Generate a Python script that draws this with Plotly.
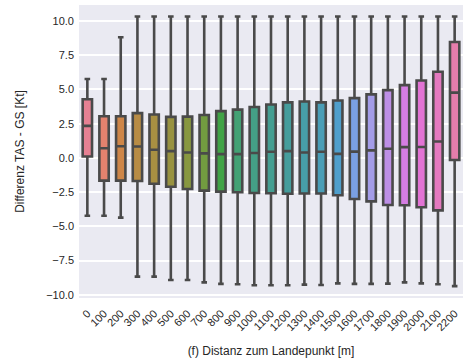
import math
import colorsys
import plotly.graph_objects as go

# Distance bins (m) and box statistics of TAS - GS difference (kt)
distances = [str(d) for d in range(0, 2300, 100)]
upper_whisker = [5.77, 5.77, 8.82] + [10.33] * 20
q3 = [4.29, 3.05, 3.05, 3.27, 3.17, 3.00, 3.02, 3.14, 3.42, 3.53, 3.72, 3.90,
      4.06, 4.12, 4.06, 4.20, 4.37, 4.64, 4.95, 5.32, 5.66, 6.30, 8.47]
median = [2.34, 0.71, 0.85, 0.83, 0.60, 0.50, 0.40, 0.33, 0.28, 0.28, 0.36, 0.45,
          0.50, 0.40, 0.45, 0.30, 0.46, 0.55, 0.67, 0.79, 0.80, 1.20, 4.77]
q1 = [0.10, -1.66, -1.66, -1.68, -1.88, -2.10, -2.27, -2.39, -2.46, -2.51, -2.56, -2.58,
      -2.62, -2.60, -2.60, -2.72, -3.00, -3.17, -3.44, -3.46, -3.60, -3.83, -0.15]
lower_whisker = [-4.22, -4.22, -4.36, -8.67, -8.67, -8.92, -8.92, -9.09, -9.20, -9.23,
                 -9.30, -9.30, -9.30, -9.25, -9.28, -9.16, -9.20, -9.20, -9.18, -9.09,
                 -9.16, -9.23, -9.36]
y_ticks = [-10.0, -7.5, -5.0, -2.5, 0.0, 2.5, 5.0, 7.5, 10.0]

# --- HUSL palette (as used by seaborn) ---
_M = [[3.2406, -1.5372, -0.4986],
      [-0.9689, 1.8758, 0.0415],
      [0.0557, -0.2040, 1.0570]]
_REF_U, _REF_V = 0.19784, 0.46834


def _max_chroma(L, H):
    hrad = math.radians(H)
    sinH, cosH = math.sin(hrad), math.cos(hrad)
    sub1 = math.pow(L + 16, 3.0) / 1560896.0
    sub2 = sub1 if sub1 > 0.008856 else L / 903.3
    result = float("inf")
    for m1, m2, m3 in _M:
        top = (0.99915 * m1 + 1.05122 * m2 + 1.14460 * m3) * sub2
        rbottom = 0.86330 * m3 - 0.17266 * m2
        lbottom = 0.12949 * m3 - 0.38848 * m1
        bottom = (rbottom * sinH + lbottom * cosH) * sub2
        for t in (0.0, 1.0):
            C = L * (top - 1.05122 * t) / (bottom + 0.17266 * sinH * t)
            if 0.0 < C < result:
                result = C
    return result


def _f_inv(t):
    return t ** 3 if t ** 3 > 0.008856 else (116.0 * t - 16.0) / 903.3


def _from_linear(c):
    return 12.92 * c if c <= 0.0031308 else 1.055 * math.pow(c, 1 / 2.4) - 0.055


def husl_to_rgb(h, s, l):
    C = _max_chroma(l, h) / 100.0 * s
    U = math.cos(math.radians(h)) * C
    V = math.sin(math.radians(h)) * C
    Y = _f_inv((l + 16.0) / 116.0)
    varU = U / (13.0 * l) + _REF_U
    varV = V / (13.0 * l) + _REF_V
    X = -(9.0 * Y * varU) / ((varU - 4.0) * varV - varU * varV)
    Z = (9.0 * Y - 15.0 * varV * Y - varV * X) / (3.0 * varV)
    rgb = [_from_linear(sum(a * b for a, b in zip(row, (X, Y, Z)))) for row in _M]
    return [min(max(c, 0.0), 1.0) for c in rgb]


def husl_palette(n, h=0.01, s=0.9, l=0.65, desat=0.75):
    out = []
    for i in range(n):
        hue = ((i / n + h) % 1) * 359
        r, g, b = husl_to_rgb(hue, s * 99, l * 99)
        hh, ll, ss = colorsys.rgb_to_hls(r, g, b)
        r, g, b = colorsys.hls_to_rgb(hh, ll, ss * desat)
        out.append(f"rgb({round(r*255)},{round(g*255)},{round(b*255)})")
    return out


colors = husl_palette(len(distances))
edge = "#4a4a4a"

fig = go.Figure()
for i, d in enumerate(distances):
    fig.add_trace(go.Box(
        x=[d], q1=[q1[i]], median=[median[i]], q3=[q3[i]],
        lowerfence=[lower_whisker[i]], upperfence=[upper_whisker[i]],
        fillcolor=colors[i], line=dict(color=edge, width=2.6),
        whiskerwidth=0.6, boxpoints=False, showlegend=False, name=d,
    ))

font_family = "Liberation Sans, Arial, sans-serif"
fig.update_layout(
    width=469, height=364,
    margin=dict(l=79, r=6, t=5, b=66),
    paper_bgcolor="white", plot_bgcolor="#EAEAF2",
    boxgap=0.2, boxmode="overlay",
    font=dict(family=font_family, size=11, color="#262626"),
    xaxis=dict(
        type="category", categoryorder="array", categoryarray=distances,
        tickangle=-45, showgrid=False, ticks="", tickfont=dict(size=11),
        ticklabelstandoff=6,
        title=dict(text="(f) Distanz zum Landepunkt [m]", font=dict(size=12), standoff=14),
        showline=False, zeroline=False,
    ),
    yaxis=dict(
        range=[-10.23, 11.17], tickvals=y_ticks, tickformat=".1f",
        showgrid=True, gridcolor="white", gridwidth=1.6, zeroline=False,
        ticks="", tickfont=dict(size=11), ticklabelstandoff=4,
        title=dict(text="Differenz TAS - GS [Kt]", font=dict(size=12), standoff=18),
    ),
)

fig.write_html("out.html")
